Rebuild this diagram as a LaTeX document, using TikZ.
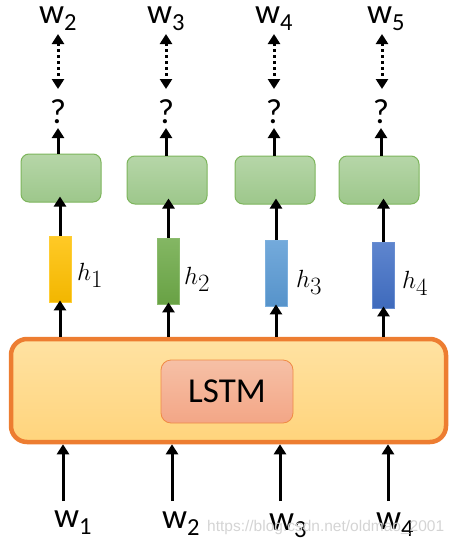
\documentclass[tikz,border=0pt]{standalone}
\usepackage{fontspec}
\setmainfont{Carlito}
\newfontfamily\wmfont{Liberation Sans}
\usetikzlibrary{arrows.meta}
\definecolor{gtop}{HTML}{B6D6A8}
\definecolor{gbot}{HTML}{9DC78B}
\definecolor{gline}{HTML}{7DB55C}
\definecolor{ltop}{HTML}{FFE2A2}
\definecolor{lbot}{HTML}{FFD47C}
\definecolor{lline}{HTML}{ED7D31}
\definecolor{mtop}{HTML}{F6C0A6}
\definecolor{mbot}{HTML}{F3A686}
\definecolor{mline}{HTML}{F08A44}
\tikzset{
  arr/.style={line width=3pt,-{Triangle[width=12pt,length=10pt]}},
  darr/.style={line width=3pt,dash pattern=on 3pt off 3pt,{Triangle[width=12pt,length=10pt]}-{Triangle[width=12pt,length=10pt]}},
  gbox/.style={rectangle,rounded corners=8pt,draw=gline,line width=1pt,top color=gtop,bottom color=gbot,minimum width=80pt,minimum height=48pt,inner sep=0pt},
  hbar/.style={rectangle,draw=#1!80!white,line width=0.8pt,top color=#1!85!white,bottom color=#1!95!black,minimum width=22pt,minimum height=66pt,inner sep=0pt},
  wlab/.style={font=\fontsize{35}{37}\selectfont,inner sep=0pt,anchor=base west,text height=16pt},
  qlab/.style={font=\fontsize{35}{37}\selectfont,inner sep=0pt,anchor=base},
  hlab/.style={font=\fontsize{33}{35}\selectfont,inner sep=0pt,anchor=base west},
}
\definecolor{hA}{HTML}{FFC000}
\definecolor{hB}{HTML}{6EAA48}
\definecolor{hC}{HTML}{5B9BD5}
\definecolor{hD}{HTML}{4270C6}
\begin{document}
\begin{tikzpicture}[x=1pt,y=-1pt]
\useasboundingbox (0,0) rectangle (456,547);
% LSTM block
\node[rectangle,rounded corners=16pt,draw=lline,line width=4.5pt,top color=ltop,bottom color=lbot,minimum width=435pt,minimum height=103pt,inner sep=0pt] (L) at (228.5,390.5) {};
\node[rectangle,rounded corners=10pt,draw=mline,line width=0.8pt,top color=mtop,bottom color=mbot,minimum width=132pt,minimum height=63pt,inner sep=0pt,font=\fontsize{35}{37}\selectfont] (M) at (227,391.5) {LSTM};
% green boxes
\node[gbox] (g1) at (61,178) {};
\node[gbox] (g2) at (167,180) {};
\node[gbox] (g3) at (275,180) {};
\node[gbox] (g4) at (379,180) {};
% h bars
\node[hbar=hA] (b1) at (60,269) {};
\node[hbar=hB] (b2) at (168.5,271) {};
\node[hbar=hC] (b3) at (276,273) {};
\node[hbar=hD] (b4) at (383.5,275) {};
\node[hlab] (l1) at (77,280) {$h_1$};
\node[hlab] (l2) at (184,284) {$h_2$};
\node[hlab] (l3) at (296,287) {$h_3$};
\node[hlab] (l4) at (402,288) {$h_4$};
% question marks
\node[qlab] (q1) at (58,123) {?};
\node[qlab] (q2) at (166,123) {?};
\node[qlab] (q3) at (274,123) {?};
\node[qlab] (q4) at (381,123) {?};
% top labels
\node[wlab] (t1) at (39,23) {w\textsubscript{2}};
\node[wlab] (t2) at (147,23) {w\textsubscript{3}};
\node[wlab] (t3) at (255,23) {w\textsubscript{4}};
\node[wlab] (t4) at (367,23) {w\textsubscript{5}};
% bottom labels
\node[wlab] (i1) at (54,527) {w\textsubscript{1}};
\node[wlab] (i2) at (162,528) {w\textsubscript{2}};
\node[wlab] (i3) at (269,530) {w\textsubscript{3}};
\node[wlab] (i4) at (376,529) {w\textsubscript{4}};
\coordinate (a1) at (63,501);
\coordinate (a2) at (172,501);
\coordinate (a3) at (280,501);
\coordinate (a4) at (388,501);
% watermark
\node[font=\wmfont\fontsize{15.5}{17}\selectfont,text=black!17,inner sep=0pt,anchor=west] (wm) at (207,527) {https://blog.csdn.net/oldmao\_2001};
% arrows
\foreach \i/\x in {1/58,2/166,3/274,4/382}{
  \draw[darr] (\x,34) -- (\x,89);
}
\draw[arr] (g1.north -| q1) -- (q1 |- 0,128);
\draw[arr] (g2.north -| q2) -- (q2 |- 0,128);
\draw[arr] (g3.north -| q3) -- (q3 |- 0,128);
\draw[arr] (g4.north -| q4) -- (q4 |- 0,128);
\foreach \i in {1,2,3,4}{
  \draw[arr] (b\i.north) -- ([yshift=6pt]g\i.south -| b\i.north);
  \draw[arr] (b\i.south |- L.north) -- ([yshift=2pt]b\i.south);
  \draw[arr] (a\i) -- (a\i |- L.south);
}
\end{tikzpicture}
\end{document}
